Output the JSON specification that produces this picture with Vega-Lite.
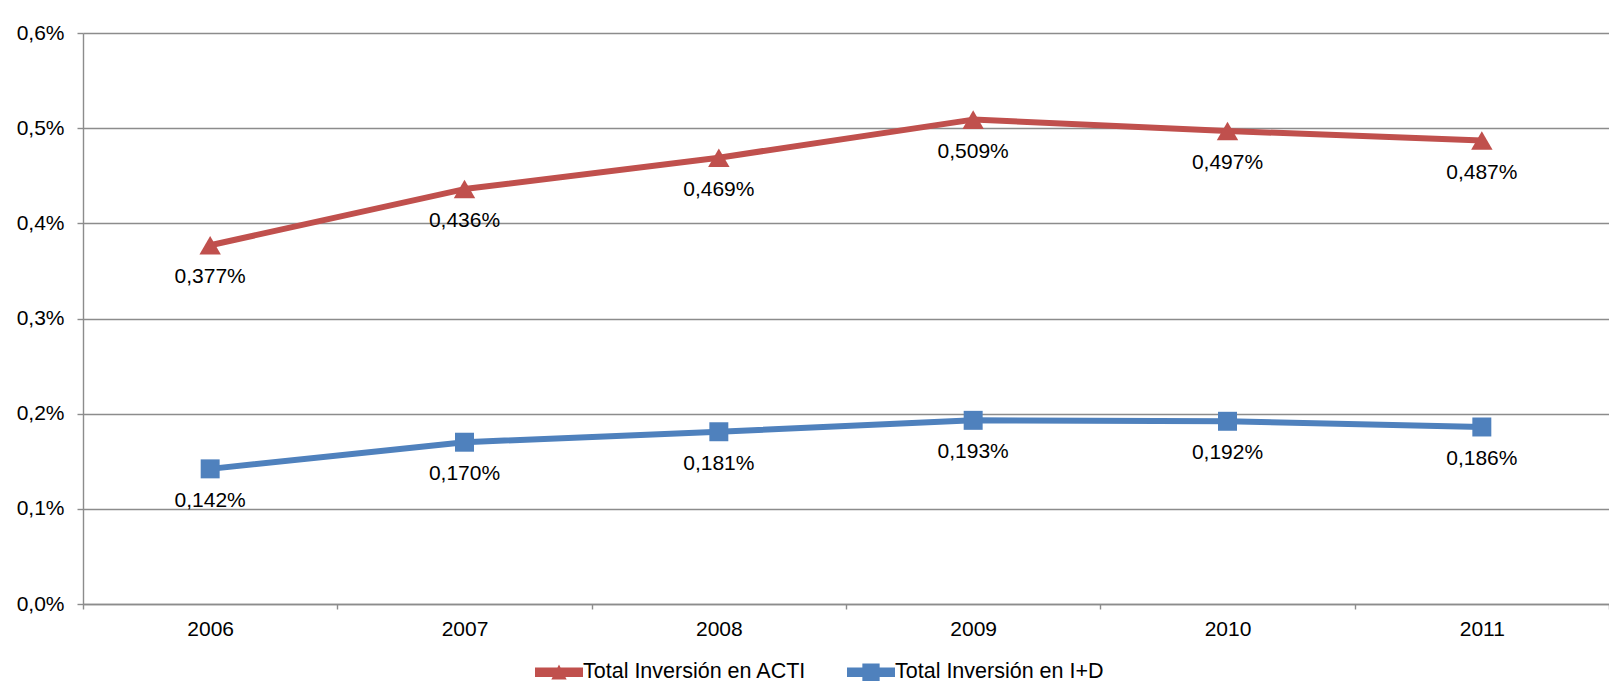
{
  "$schema": "https://vega.github.io/schema/vega-lite/v6.json",
  "autosize": "none",
  "width": 1526,
  "height": 571,
  "padding": {"left": 83, "top": 33, "right": 0, "bottom": 94},
  "config": {
    "locale": {"number": {"decimal": ",", "thousands": ".", "grouping": [3], "currency": ["", " €"]}},
    "view": {"stroke": null},
    "font": "Liberation Sans"
  },
  "data": {
    "values": [
      {"year": "2006", "serie": "Total Inversión en ACTI", "valor": 0.00377},
      {"year": "2007", "serie": "Total Inversión en ACTI", "valor": 0.00436},
      {"year": "2008", "serie": "Total Inversión en ACTI", "valor": 0.00469},
      {"year": "2009", "serie": "Total Inversión en ACTI", "valor": 0.00509},
      {"year": "2010", "serie": "Total Inversión en ACTI", "valor": 0.00497},
      {"year": "2011", "serie": "Total Inversión en ACTI", "valor": 0.00487},
      {"year": "2006", "serie": "Total Inversión en I+D", "valor": 0.00142},
      {"year": "2007", "serie": "Total Inversión en I+D", "valor": 0.00170},
      {"year": "2008", "serie": "Total Inversión en I+D", "valor": 0.00181},
      {"year": "2009", "serie": "Total Inversión en I+D", "valor": 0.00193},
      {"year": "2010", "serie": "Total Inversión en I+D", "valor": 0.00192},
      {"year": "2011", "serie": "Total Inversión en I+D", "valor": 0.00186}
    ]
  },
  "encoding": {
    "x": {
      "field": "year", "type": "ordinal", "bandPosition": 0.5,
      "scale": {"type": "band", "paddingInner": 0, "paddingOuter": 0},
      "axis": {
        "title": null, "labelAngle": 0, "tickBand": "extent", "grid": false,
        "domainColor": "#8C8C8C", "domainWidth": 1.4, "tickColor": "#8C8C8C", "tickWidth": 1.4,
        "tickSize": 5, "labelPadding": 9, "labelFontSize": 21, "labelColor": "#000000"
      }
    },
    "y": {
      "field": "valor", "type": "quantitative",
      "scale": {"domain": [0, 0.006], "nice": false},
      "axis": {
        "title": null, "values": [0, 0.001, 0.002, 0.003, 0.004, 0.005, 0.006], "format": ".1%",
        "grid": true, "gridColor": "#8C8C8C", "gridWidth": 1.4,
        "domainColor": "#8C8C8C", "domainWidth": 1.4, "tickColor": "#8C8C8C", "tickWidth": 1.4,
        "tickSize": 6, "labelPadding": 13, "labelFontSize": 21, "labelColor": "#000000"
      }
    },
    "color": {
      "field": "serie", "type": "nominal",
      "scale": {"domain": ["Total Inversión en ACTI", "Total Inversión en I+D"], "range": ["#C0504D", "#4F81BD"]},
      "legend": {
        "orient": "none", "legendX": 452, "legendY": 615, "direction": "horizontal",
        "title": null, "labelFontSize": 21.5, "labelColor": "#000000", "labelLimit": 0,
        "symbolSize": 2304, "labelOffset": 0, "columnPadding": 40, "padding": 0,
        "symbolStrokeWidth": 0, "symbolOpacity": 1,
        "encode": {
          "symbols": {
            "update": {
              "shape": {"signal": "datum.value == 'Total Inversión en ACTI' ? 'M-1,-0.2L1,-0.2L1,0.2L-1,0.2Z M-0.32,0.3L0,-0.32L0.32,0.3Z' : 'M-1,-0.2L1,-0.2L1,0.2L-1,0.2Z M-0.36,-0.36L0.36,-0.36L0.36,0.36L-0.36,0.36Z'"}
            }
          }
        }
      }
    }
  },
  "layer": [
    {
      "mark": {"type": "line", "strokeWidth": 6, "strokeCap": "round", "strokeJoin": "round"}
    },
    {
      "transform": [{"filter": "datum.serie == 'Total Inversión en ACTI'"}],
      "mark": {"type": "point", "filled": true, "opacity": 1, "size": 460, "shape": "triangle-up"}
    },
    {
      "transform": [{"filter": "datum.serie == 'Total Inversión en I+D'"}],
      "mark": {"type": "point", "filled": true, "opacity": 1, "size": 360, "shape": "square"}
    },
    {
      "mark": {"type": "text", "dy": 32, "fontSize": 21, "baseline": "middle"},
      "encoding": {
        "text": {"field": "valor", "type": "quantitative", "format": ".3%"},
        "color": {"value": "#000000"}
      }
    }
  ]
}
